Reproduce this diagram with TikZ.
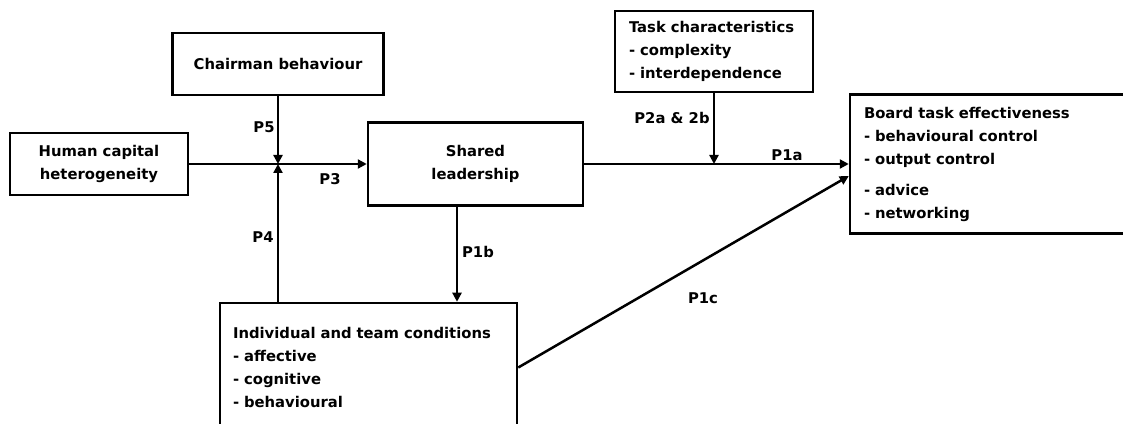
\documentclass[tikz,border=0pt]{standalone}
\usepackage{fontspec}
\setsansfont{DejaVu Sans}
\usetikzlibrary{arrows.meta}

\begin{document}
\begin{tikzpicture}[x=1pt, y=1pt, line width=2.5pt,
    font=\sffamily\bfseries\fontsize{14.8}{23}\selectfont,
    box/.style={draw, inner sep=0pt, align=center},
    listbox/.style={draw, inner ysep=0pt, inner xsep=14pt, align=left},
    arr/.style={-{Triangle[length=9pt,width=9pt]}}]
  \useasboundingbox (0,0) rectangle (1123,423);
  \clip (0,0) rectangle (1123,423);

  % boxes
  \node[box, minimum width=211, minimum height=62] (chair) at (278,359) {Chairman behaviour};
  \node[box, minimum width=178, minimum height=62] (human) at (99,259) {Human capital\\heterogeneity};
  \node[box, minimum width=215, minimum height=83] (shared) at (475.5,259) {Shared\\leadership};
  \node[listbox, text width=170, minimum height=81] (task) at (714,371.5)
        {Task characteristics\\- complexity\\- interdependence};
  \node[listbox, text width=257, minimum height=139] (board) at (992.5,259)
        {Board task effectiveness\\- behavioural control\\- output control\\[8pt]- advice\\- networking};
  \node[listbox, inner xsep=13pt, text width=271, minimum height=129] (indiv) at (368.5,55.5)
        {Individual and team conditions\\- affective\\- cognitive\\- behavioural};

  % junction of the moderators
  \coordinate (j) at (278,259);
  \coordinate (p1b) at (457,0);

  % connectors
  \draw[arr] (human.east) -- (shared.west);
  \draw[arr] (chair.south) -- (j);
  \draw[arr] (indiv.north -| j) -- (j);
  \draw[arr] (shared.south -| p1b) -- (indiv.north -| p1b);
  \draw[arr] (shared.east) -- (board.west);
  \draw[arr] (task.south) -- (task.south |- shared.east);
  \draw[arr] (indiv.east) -- ([yshift=-12pt]board.west);

  % path labels
  \node (lp5)  at (264,296) {P5};
  \node (lp3)  at (330,244) {P3};
  \node (lp4)  at (263,186) {P4};
  \node (lp1b) at (478,171) {P1b};
  \node (lp2)  at (672,305) {P2a \& 2b};
  \node (lp1a) at (787,268) {P1a};
  \node (lp1c) at (703,125) {P1c};
\end{tikzpicture}
\end{document}
